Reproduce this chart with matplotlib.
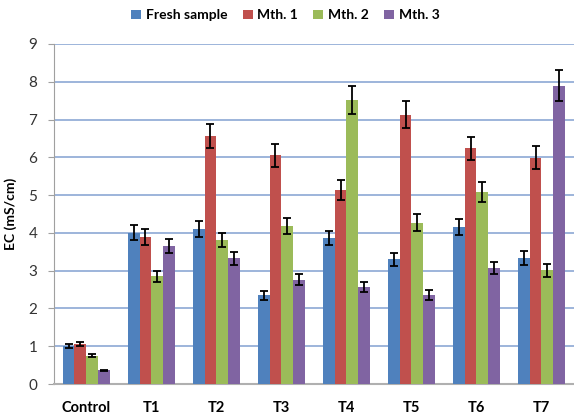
import matplotlib.pyplot as plt
import numpy as np

plt.rcParams['font.family'] = ['Lato', 'DejaVu Sans']

groups = ['Control', 'T1', 'T2', 'T3', 'T4', 'T5', 'T6', 'T7']
series = ['Fresh sample', 'Mth. 1', 'Mth. 2', 'Mth. 3']

fresh = [1.00, 4.00, 4.10, 2.35, 3.87, 3.30, 4.16, 3.34]
mth1 = [1.06, 3.89, 6.56, 6.05, 5.13, 7.13, 6.24, 5.99]
mth2 = [0.75, 2.85, 3.82, 4.18, 7.52, 4.27, 5.08, 3.01]
mth3 = [0.36, 3.65, 3.33, 2.76, 2.56, 2.36, 3.08, 7.90]

fresh_err = [0.05, 0.20, 0.21, 0.12, 0.19, 0.18, 0.21, 0.18]
mth1_err = [0.05, 0.20, 0.32, 0.31, 0.26, 0.36, 0.31, 0.30]
mth2_err = [0.035, 0.15, 0.19, 0.21, 0.38, 0.22, 0.26, 0.17]
mth3_err = [0.02, 0.19, 0.17, 0.14, 0.13, 0.13, 0.16, 0.40]

values = [fresh, mth1, mth2, mth3]
errors = [fresh_err, mth1_err, mth2_err, mth3_err]
colors = ['#4F81BD', '#C0504D', '#9BBB59', '#8064A2']

fig = plt.figure(figsize=(5.74, 4.19), dpi=100)
ax = fig.add_axes([0.094, 0.0835, 0.906, 0.8115])

x = np.arange(len(groups))
w = 0.184
for i, (vals, errs, col, name) in enumerate(zip(values, errors, colors, series)):
    pos = x + (i - 1.5) * w
    ax.bar(pos, vals, width=w, color=col, label=name, zorder=3)
    ax.errorbar(pos, vals, yerr=errs, fmt='none', ecolor='black',
                elinewidth=1.3, capsize=3, capthick=1.3, zorder=4)

ax.set_xlim(-0.5, len(groups) - 0.5)
ax.set_ylim(0, 9)
ax.set_yticks(range(0, 10))
ax.yaxis.grid(True, color='#8CA8D4', linewidth=1.2, zorder=0)
ax.set_axisbelow(True)

for side in ['top', 'right']:
    ax.spines[side].set_visible(False)
ax.spines['left'].set_color('#A0A0A0')
ax.spines['bottom'].set_color('#B0B0B0')
ax.spines['bottom'].set_linewidth(1.5)

ax.set_xticks(x)
ax.set_xticklabels(groups, fontweight='bold', fontsize=10.5)
ax.tick_params(axis='x', length=0, pad=12)
ax.tick_params(axis='y', length=4, color='#A0A0A0', labelsize=11,
               labelcolor='#333333', pad=8)
ax.set_ylabel('EC (mS/cm)', fontweight='bold', fontsize=10, labelpad=8)

ax.legend(loc='lower center', bbox_to_anchor=(0.445, 1.03), ncol=4,
          frameon=False, prop={'weight': 'bold', 'size': 10},
          handlelength=0.7, handleheight=0.7, handletextpad=0.35,
          columnspacing=1.1)

fig.savefig('out.png', dpi=100)
